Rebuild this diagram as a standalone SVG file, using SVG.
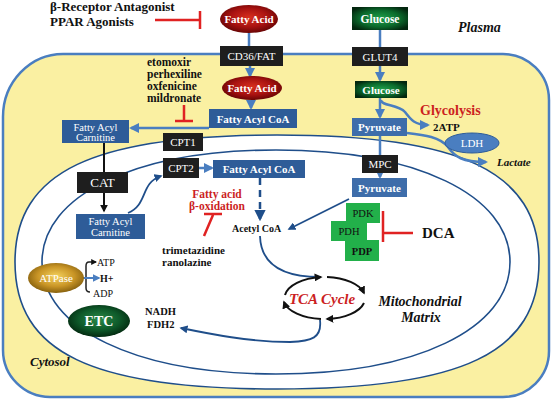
<svg xmlns="http://www.w3.org/2000/svg" width="553" height="402" viewBox="0 0 553 402">
<defs>
<radialGradient id="gRed" cx="50%" cy="45%" r="55%"><stop offset="0" stop-color="#D8301F"/><stop offset="0.6" stop-color="#A81210"/><stop offset="1" stop-color="#680505"/></radialGradient>
<radialGradient id="gGreen" cx="50%" cy="50%" r="60%"><stop offset="0" stop-color="#1FA24C"/><stop offset="0.6" stop-color="#0B6A2C"/><stop offset="1" stop-color="#02260E"/></radialGradient>
<radialGradient id="gEtc" cx="50%" cy="45%" r="55%"><stop offset="0" stop-color="#2B8A48"/><stop offset="0.6" stop-color="#0E5A2A"/><stop offset="1" stop-color="#032A10"/></radialGradient>
<radialGradient id="gGold" cx="50%" cy="45%" r="55%"><stop offset="0" stop-color="#F4D25E"/><stop offset="0.6" stop-color="#C99526"/><stop offset="1" stop-color="#86600E"/></radialGradient>
<marker id="aB" viewBox="0 0 10 10" refX="8" refY="5" markerWidth="4" markerHeight="4" orient="auto"><path d="M0,0 L10,5 L0,10 Z" fill="#4A7EC0"/></marker>
<marker id="aD" viewBox="0 0 10 10" refX="8" refY="5" markerWidth="4.5" markerHeight="4.5" orient="auto"><path d="M0,0 L10,5 L0,10 Z" fill="#1F4E8A"/></marker>
<marker id="aK" viewBox="0 0 10 10" refX="8" refY="5" markerWidth="4" markerHeight="4" orient="auto"><path d="M0,0 L10,5 L0,10 Z" fill="#111"/></marker>
</defs>
<style>
text{font-family:"Liberation Serif","Times New Roman",serif}
.w{fill:#fff;font-size:11px;text-anchor:middle}
.b{font-weight:bold}
.k{fill:#111}
.red{fill:#CC1F1F}
.it{font-style:italic;font-weight:bold}
.box{fill:#2E5C98}
.pyr{fill:#3E6DAA}
.blk{fill:#1E1E1E}
.grn{fill:#22B04A}
.cb{fill:none;stroke:#4A7EC0;stroke-width:2.5}
.cd{fill:none;stroke:#1F4E8A;stroke-width:1.8}
.ck{fill:none;stroke:#111;stroke-width:2}
.inh{fill:none;stroke:#E02222;stroke-width:2.5}
.mem{fill:none;stroke:#1F4E8A;stroke-width:1.6}
.drug{font-size:11.5px;font-weight:bold;fill:#111}
</style>
<rect width="553" height="402" fill="#fff"/>
<g id="cell">
<path d="M63,54 H503 A46,46 0 0 1 549,100 V351 A46,46 0 0 1 503,397 H50 A47,47 0 0 1 3,350 V117 A60,63 0 0 1 63,54 Z" fill="#FAF0A2" stroke="#4A7EC0" stroke-width="2.5"/>
</g>
<g id="mitochondrion">
<path d="M539,262 C539,353 462,389 277,389 C92,389 15,353 15,262 C15,171 94,135 277,135 C460,135 539,171 539,262 Z" class="mem" style="fill:#fff"/>
<path d="M510,262 C510,329 416,374 276,374 C136,374 42,329 42,262 C42,195 136,150 276,150 C416,150 510,195 510,262 Z" class="mem"/>
</g>
<g id="connectors">
<path class="cb" d="M249,33 V46"/>
<path class="cb" d="M250,66 V76" marker-end="url(#aB)"/>
<path class="cb" d="M251,100 V108" marker-end="url(#aB)"/>
<path class="cb" d="M209,128 H131" marker-end="url(#aB)"/>
<path class="cb" d="M380,30 V47"/>
<path class="cb" d="M380,66 V80" marker-end="url(#aB)"/>
<path class="cb" d="M380,98 V117" marker-end="url(#aB)"/>
<path class="cb" d="M381,100 C381,106 398,104 405,112 C411,120 415,125 428,125" marker-end="url(#aB)"/>
<path class="cb" d="M407,133 C425,135 440,137 448,147 C455,157 462,162 486,162" marker-end="url(#aB)"/>
<path class="cb" d="M380,136 V177" marker-end="url(#aB)"/>
<path class="cb" d="M199,168 H212" marker-end="url(#aB)"/>
<path class="cd" d="M349,199 L289,229" marker-end="url(#aD)"/>
<path class="cd" d="M260,178 V219" style="stroke-width:2.5;stroke-dasharray:7,5" marker-end="url(#aD)"/>
<path class="cd" d="M260,236 C261,268 288,277 320,277"/>
<path class="cd" d="M128,213 C148,205 140,183 161,176" marker-end="url(#aD)"/>
<path class="cd" d="M320,320 C322,338 312,341 290,342 C250,342 210,334 181,328" marker-end="url(#aD)"/>
<path class="ck" d="M104,143 V211" marker-end="url(#aK)"/>
<path class="ck" d="M285,295 A41,21 0 0 1 321,277" marker-end="url(#aK)"/>
<path class="ck" d="M327,277 A41,21 0 0 1 364,293" marker-end="url(#aK)"/>
<path class="ck" d="M364,303 A41,21 0 0 1 327,319" marker-end="url(#aK)"/>
<path class="ck" d="M321,319 A41,21 0 0 1 284,302" marker-end="url(#aK)"/>
<path fill="none" stroke="#222" stroke-width="1.5" d="M90,292 Q86,292 86,288 V266 Q86,262 89,262 H96" marker-end="url(#aK)"/>
<path class="cb" style="stroke-width:2" d="M83,278 H99" marker-end="url(#aB)"/>
<path class="inh" d="M155,20 H200 M200,11 V29"/>
<path class="inh" d="M184,105 V121 M175,121 H193"/>
<path class="inh" d="M413,233 H383 M383,211 V242"/>
<path class="inh" d="M213,215 L204,236 M204,214 H222"/>
</g>
<g id="fa1"><ellipse cx="249" cy="19" rx="29" ry="14" fill="url(#gRed)"/><text class="w b" x="249" y="23">Fatty Acid</text></g>
<g id="cd36"><rect class="blk" x="220" y="46" width="63" height="20"/><text class="w" x="251.5" y="60">CD36/FAT</text></g>
<g id="fa2"><ellipse cx="252" cy="88" rx="30" ry="12" fill="url(#gRed)"/><text class="w b" x="252" y="92">Fatty Acid</text></g>
<g id="facoa1"><rect class="box" x="209" y="109" width="88" height="19"/><text class="w b" x="253" y="122.5">Fatty Acyl CoA</text></g>
<g id="glucose1"><rect x="352" y="7" width="56" height="23" fill="url(#gGreen)"/><text class="w b" x="380" y="22.5" style="font-size:11.5px">Glucose</text></g>
<g id="glut4"><rect class="blk" x="352" y="47" width="56" height="19"/><text class="w" x="380" y="60.5">GLUT4</text></g>
<g id="glucose2"><rect x="355" y="81" width="52" height="17" fill="url(#gGreen)"/><text class="w b" x="381" y="93.5">Glucose</text></g>
<g id="pyruvate1"><rect class="pyr" x="352" y="118" width="55" height="18"/><text class="w b" x="379.5" y="131">Pyruvate</text></g>
<g id="mpc"><rect class="blk" x="362" y="155" width="36" height="18"/><text class="w" x="380" y="168">MPC</text></g>
<g id="pyruvate2"><rect class="pyr" x="352" y="178" width="55" height="19"/><text class="w b" x="379.5" y="191.5">Pyruvate</text></g>
<g id="ldh"><ellipse cx="472" cy="143" rx="27" ry="10" fill="#4A7EC0" stroke="#2E5C98" stroke-width="1"/><text class="w" x="472" y="147">LDH</text></g>
<g id="cpt1"><rect class="blk" x="163" y="133" width="40" height="18"/><text class="w" x="183" y="146">CPT1</text></g>
<g id="cpt2"><rect class="blk" x="163" y="158" width="36" height="20"/><text class="w" x="181" y="172">CPT2</text></g>
<g id="facoa2"><rect class="box" x="213" y="160" width="92" height="18"/><text class="w b" x="259" y="173">Fatty Acyl CoA</text></g>
<g id="carnitine1"><rect class="box" x="62" y="120" width="67" height="23"/><text class="w" x="95.5" y="130.5" style="font-size:10.5px">Fatty Acyl</text><text class="w" x="95.5" y="140.5" style="font-size:10.5px">Carnitine</text></g>
<g id="cat"><rect class="blk" x="77" y="172" width="51" height="21"/><text class="w" x="102.5" y="187" style="font-size:13px">CAT</text></g>
<g id="carnitine2"><rect class="box" x="76" y="214" width="69" height="25"/><text class="w" x="110.5" y="225" style="font-size:10.5px">Fatty Acyl</text><text class="w" x="110.5" y="236" style="font-size:10.5px">Carnitine</text></g>
<g id="pdc"><rect class="grn" x="346" y="203" width="34" height="20"/><rect class="grn" x="331" y="221" width="36" height="20"/><rect class="grn" x="345" y="240" width="34" height="21"/>
<text class="k" x="363" y="217" text-anchor="middle" style="font-size:10.5px">PDK</text><text class="k" x="349" y="235" text-anchor="middle" style="font-size:10.5px">PDH</text><text class="k b" x="362" y="255" text-anchor="middle" style="font-size:10.5px">PDP</text></g>
<g id="atpase"><ellipse cx="56" cy="278" rx="28" ry="15" fill="url(#gGold)"/><text class="w" x="56" y="282">ATPase</text></g>
<g id="etc"><ellipse cx="99" cy="321" rx="31" ry="16" fill="url(#gEtc)"/><text class="w b" x="99" y="326" style="font-size:14px">ETC</text></g>
<g id="labels">
<text class="k b" x="50" y="11" style="font-size:13px">β-Receptor Antagonist</text>
<text class="k b" x="50" y="26" style="font-size:13px">PPAR Agonists</text>
<text class="drug" x="147" y="65.5">etomoxir</text>
<text class="drug" x="147" y="77.5">perhexiline</text>
<text class="drug" x="147" y="89.5">oxfenicine</text>
<text class="drug" x="147" y="101.5">mildronate</text>
<text class="k it" x="458" y="32" style="font-size:14px">Plasma</text>
<text class="red b" x="420" y="115" style="font-size:14px">Glycolysis</text>
<text class="k b" x="433" y="131" style="font-size:11px">2ATP</text>
<text class="k it" x="497" y="166" style="font-size:11px">Lactate</text>
<text class="red b" x="217" y="197.5" text-anchor="middle" style="font-size:11.5px">Fatty acid</text>
<text class="red b" x="217" y="209.5" text-anchor="middle" style="font-size:11.5px">β-oxidation</text>
<text class="k b" x="232" y="232" style="font-size:10px">Acetyl CoA</text>
<text class="k b" x="422" y="238" style="font-size:15px">DCA</text>
<text class="k b" x="162" y="254" style="font-size:11px">trimetazidine</text>
<text class="k b" x="162" y="266" style="font-size:11px">ranolazine</text>
<text class="k" x="97" y="266" style="font-size:10px">ATP</text>
<text class="k b" x="100" y="282" style="font-size:10px">H+</text>
<text class="k" x="93" y="297" style="font-size:10px">ADP</text>
<text class="k b" x="145" y="315" style="font-size:10.5px">NADH</text>
<text class="k b" x="147" y="328" style="font-size:10.5px">FDH2</text>
<text class="red" x="322" y="304" text-anchor="middle" style="font-size:15px;font-style:italic;font-weight:bold">TCA Cycle</text>
<text class="k it" x="420" y="306" text-anchor="middle" style="font-size:14px">Mitochondrial</text>
<text class="k it" x="421" y="322" text-anchor="middle" style="font-size:14px">Matrix</text>
<text class="k it" x="30" y="366" style="font-size:13px">Cytosol</text>
</g>
</svg>
